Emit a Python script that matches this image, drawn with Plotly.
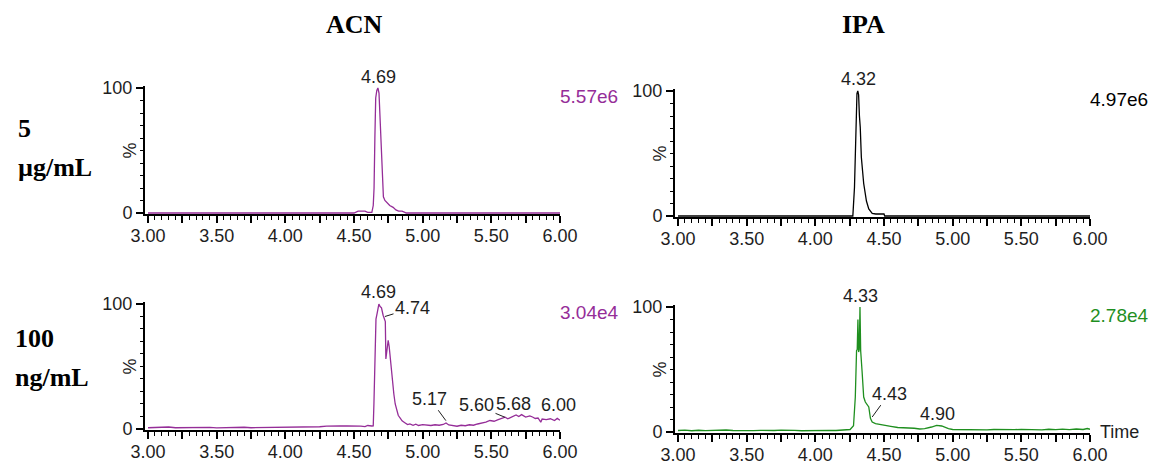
import plotly.graph_objects as go

# ---------------- data ----------------
# ACN, 5 ug/mL (purple)
t_acn5 = [3.00, 3.50, 4.00, 4.50, 4.53, 4.58, 4.60, 4.63, 4.640, 4.646, 4.652, 4.658,
          4.666, 4.674, 4.682, 4.690, 4.698, 4.706, 4.714, 4.725, 4.740, 4.760, 4.785,
          4.805, 4.825, 4.850, 4.870, 4.880, 5.50, 6.00]
i_acn5 = [0, 0, 0, 0, 1.5, 1.5, 0.5, 0.5, 6, 20, 60, 92,
          98, 100, 96, 75, 45, 22, 13, 10, 8, 6, 4.5,
          2.5, 1.5, 1.5, 0.5, 0, 0, 0]

# IPA, 5 ug/mL (black)
t_ipa5 = [3.00, 3.50, 4.00, 4.27, 4.273, 4.285, 4.295, 4.303, 4.309, 4.315, 4.321, 4.327,
          4.335, 4.352, 4.372, 4.389, 4.414, 4.44, 4.50, 4.505, 5.00, 6.00]
i_ipa5 = [0, 0, 0, 0, 0, 23, 68, 98, 100, 97, 80, 71,
          47, 26, 12, 5.6, 2, 1.6, 1.6, 0, 0, 0]

# ACN, 100 ng/mL (purple)
t_acn100 = [3.00, 3.05, 3.10, 3.15, 3.20, 3.25, 3.30, 3.35, 3.40, 3.45, 3.50, 3.55, 3.60,
            3.65, 3.70, 3.75, 3.80, 3.85, 3.90, 3.95, 4.00, 4.05, 4.10, 4.15, 4.20, 4.25,
            4.30, 4.35, 4.40, 4.45, 4.50, 4.55, 4.58, 4.60, 4.63, 4.64,
            4.645, 4.652, 4.660, 4.669, 4.681, 4.690, 4.700, 4.712, 4.722, 4.728, 4.732,
            4.737, 4.745, 4.749, 4.756, 4.765, 4.773, 4.782, 4.790, 4.800, 4.810, 4.822,
            4.834, 4.850, 4.870, 4.890, 4.907, 4.93, 4.95, 4.97, 5.00, 5.03, 5.06, 5.09,
            5.12, 5.15, 5.17, 5.19, 5.22, 5.25, 5.28, 5.31, 5.34, 5.37, 5.40, 5.43, 5.46,
            5.49, 5.52, 5.55, 5.58, 5.60, 5.62, 5.65, 5.68, 5.70, 5.72, 5.75, 5.78, 5.80,
            5.82, 5.84, 5.86, 5.87, 5.90, 5.93, 5.96, 5.98, 6.00]
i_acn100 = [1.0, 1.2, 0.9, 1.6, 1.0, 1.1, 0.9, 1.2, 1.0, 1.3, 0.9, 1.1, 1.0,
            1.2, 1.4, 1.0, 1.1, 0.9, 1.3, 1.0, 1.2, 1.5, 1.3, 1.6, 2.0, 1.8,
            2.3, 2.1, 2.5, 2.4, 2.6, 2.3, 1.9, 2.8, 2.4, 2.5,
            20, 68, 88, 93, 100, 98, 97, 91, 87, 86, 56,
            62, 70, 71, 66, 55, 47, 37, 28, 20, 15, 11,
            9, 6.5, 5, 3.5, 4, 3, 3.8, 2.8, 3.5, 3.2, 2.8, 3.4,
            3.0, 3.6, 4.8, 3.2, 2.5, 2.2, 3.0, 2.6, 3.4, 3.0, 4.0, 4.6, 5.5,
            6.8, 6.2, 7.5, 8.4, 9.4, 8.2, 9.8, 11.2, 10.0, 11.5, 9.5, 10.5, 9.6,
            8.4, 8.8, 5.5, 8.0, 7.5, 8.2, 6.8, 8.5, 7.0]

# IPA, 100 ng/mL (green)
t_ipa100 = [3.00, 3.05, 3.10, 3.15, 3.20, 3.25, 3.30, 3.35, 3.40, 3.45, 3.50, 3.55, 3.60,
            3.65, 3.70, 3.75, 3.80, 3.85, 3.90, 3.95, 4.00, 4.05, 4.10, 4.15, 4.20, 4.24,
            4.253, 4.278, 4.291, 4.300, 4.305, 4.310, 4.315, 4.320, 4.325, 4.330, 4.340,
            4.352, 4.364, 4.389, 4.401, 4.414, 4.438, 4.475, 4.50, 4.549, 4.60, 4.673,
            4.72, 4.76, 4.796, 4.846, 4.883, 4.92, 4.95, 4.969, 5.00, 5.043, 5.10, 5.15,
            5.20, 5.25, 5.30, 5.35, 5.40, 5.45, 5.50, 5.55, 5.60, 5.65, 5.70, 5.75, 5.80,
            5.85, 5.90, 5.95, 5.98, 6.00]
i_ipa100 = [1.2, 1.5, 1.0, 1.4, 1.1, 1.3, 1.0, 1.6, 1.2, 1.0, 1.4, 1.1, 1.3,
            1.0, 1.2, 1.5, 1.1, 1.3, 1.0, 1.2, 1.4, 1.1, 1.3, 1.2, 1.5, 1.8,
            2.0, 5, 28, 65, 66, 90, 64, 66, 100, 65, 49,
            28, 24, 20, 11, 8, 6.7, 5.9, 5.0, 4.5, 3.6, 3.5,
            3.0, 2.4, 2.7, 4.0, 5.3, 4.8, 3.2, 2.7, 2.0, 1.9, 2.2, 1.8,
            2.1, 1.7, 2.0, 1.8, 2.2, 1.9, 2.1, 1.8, 2.0, 1.7, 2.2, 1.9, 2.3,
            1.9, 2.4, 2.0, 2.8, 2.2]

x_tickvals = [3.00, 3.25, 3.50, 3.75, 4.00, 4.25, 4.50, 4.75, 5.00, 5.25, 5.50, 5.75, 6.00]
x_ticktext = ["3.00", "", "3.50", "", "4.00", "", "4.50", "", "5.00", "", "5.50", "", "6.00"]

col_titles = ["ACN", "IPA"]
row_titles = [["5", "µg/mL"], ["100", "ng/mL"]]
intensities = ["5.57e6", "4.97e6", "3.04e4", "2.78e4"]

PURPLE = "#952d98"
GREEN = "#1f8f1f"
BLACK = "#000000"
TXT = "#1e1e1e"

W, H = 1150, 465
XR = [2.978, 6.0]
YMIN, YMAX = -0.8, 101.5

# panel geometry in pixels: (left, right, y-pixel of 0 %, y-pixel of 100 %)
panels = [(145, 560, 213, 88), (675, 1090, 216, 91),
          (145, 560, 429, 304), (675, 1090, 432, 307)]


def ydomain(p0, p100):
    s = (p0 - p100) / 100.0
    bottom = p0 + (0 - YMIN) * s
    top = p100 - (YMAX - 100) * s
    return [1 - bottom / H, 1 - top / H]


def yfrac(v):
    # value in % -> fraction of the y domain
    return (v - YMIN) / (YMAX - YMIN)


fig = go.Figure()
series = [(t_acn5, i_acn5, PURPLE), (t_ipa5, i_ipa5, BLACK),
          (t_acn100, i_acn100, PURPLE), (t_ipa100, i_ipa100, GREEN)]
for k, (t, v, c) in enumerate(series):
    sfx = "" if k == 0 else str(k + 1)
    fig.add_trace(go.Scatter(x=t, y=v, mode="lines", line=dict(color=c, width=1.3),
                             xaxis="x" + sfx, yaxis="y" + sfx, showlegend=False,
                             hoverinfo="skip"))

tickfont = dict(family="Liberation Sans, Arial, sans-serif", size=18, color=TXT)
layout = {}
for k, (l, r, p0, p100) in enumerate(panels):
    sfx = "" if k == 0 else str(k + 1)
    layout["xaxis" + sfx] = dict(
        domain=[l / W, r / W], range=XR, anchor="y" + sfx, automargin=False,
        showline=True, linewidth=2, linecolor="black", showgrid=False, zeroline=False,
        tickmode="array", tickvals=x_tickvals, ticktext=x_ticktext,
        ticks="outside", ticklen=7, tickwidth=1.5, tickcolor="black",
        ticklabelstandoff=-3,
        minor=dict(tickmode="linear", tick0=3.0, dtick=0.05, ticks="outside",
                   ticklen=4, tickwidth=1, tickcolor="black"),
        tickfont=tickfont, fixedrange=True)
    layout["yaxis" + sfx] = dict(
        domain=ydomain(p0, p100), range=[YMIN, YMAX], anchor="x" + sfx, automargin=False,
        showline=True, linewidth=2, linecolor="black", showgrid=False, zeroline=False,
        tickmode="array", tickvals=[0, 100], ticktext=["0", "100"],
        ticks="outside", ticklen=7, tickwidth=1.5, tickcolor="black",
        minor=dict(tickmode="linear", tick0=0, dtick=10, ticks="outside",
                   ticklen=3, tickwidth=1, tickcolor="black"),
        tickfont=tickfont, fixedrange=True)

ann = []
lab = dict(family="Liberation Sans, Arial, sans-serif", size=18, color=TXT)
for k in range(4):
    sfx = "" if k == 0 else str(k + 1)
    # % label
    ann.append(dict(text="%", xref="x" + sfx + " domain", x=0, xshift=-16,
                    yref="y" + sfx + " domain", y=yfrac(50), showarrow=False,
                    textangle=-90, xanchor="center", yanchor="middle", font=lab))
    # intensity label
    icol = [PURPLE, BLACK, PURPLE, GREEN][k]
    ann.append(dict(text=intensities[k], xref="x" + sfx + " domain", x=1, xshift=-2,
                    yref="y" + sfx + " domain", y=yfrac(93), showarrow=False,
                    xanchor="left", yanchor="middle",
                    font=dict(family="Liberation Sans, Arial, sans-serif", size=19,
                              color=icol)))

# peak labels (no leader)
plain = [("x", "y", 4.676, 109, "4.69"), ("x2", "y2", 4.315, 110, "4.32"),
         ("x3", "y3", 4.676, 110, "4.69"), ("x3", "y3", 5.66, 20, "5.68"),
         ("x3", "y3", 5.988, 18.8, "6.00"), ("x4", "y4", 4.327, 109, "4.33"),
         ("x4", "y4", 4.888, 14.7, "4.90")]
for xr, yr, xv, yv, tx in plain:
    ann.append(dict(text=tx, xref=xr, yref=yr + " domain", x=xv, y=yfrac(yv),
                    showarrow=False, xanchor="center", yanchor="middle", font=lab))

# peak labels with leader lines: (axis, point x, point y, text x, text y, text)
leaders = [("3", 4.725, 90, 4.926, 96.8, "4.74"), ("3", 5.169, 6.7, 5.052, 24.2, "5.17"),
           ("3", 5.599, 9.4, 5.392, 18.8, "5.60"), ("4", 4.414, 12, 4.537, 30.7, "4.43")]
for s, px, py, tx_, ty_, tx in leaders:
    ann.append(dict(text=tx, xref="x" + s, yref="y" + s, x=px, y=py,
                    axref="x" + s, ayref="y" + s, ax=tx_, ay=ty_, showarrow=True,
                    arrowhead=0, arrowwidth=1, arrowcolor=TXT, font=lab))

# Time label
ann.append(dict(text="Time", xref="x4 domain", x=1, xshift=8,
                yref="y4 domain", y=yfrac(0), showarrow=False, xanchor="left",
                yanchor="middle", font=lab))

# column titles
serif = dict(family="Liberation Serif, Times New Roman, serif", size=26, color="black")
for cx, t in zip([354, 864], col_titles):
    ann.append(dict(text="<b>%s</b>" % t, xref="paper", yref="paper", x=cx / W,
                    y=1 - 24 / H, showarrow=False, xanchor="center", yanchor="middle",
                    font=serif))
# row titles
row_pos = [(16, 129, 167), (13, 338, 377)]
for (lx, y1, y2), (a, b) in zip(row_pos, row_titles):
    ann.append(dict(text="<b>%s</b>" % a, xref="paper", yref="paper", x=lx / W,
                    y=1 - y1 / H, showarrow=False, xanchor="left", yanchor="middle",
                    font=serif))
    ann.append(dict(text="<b>%s</b>" % b, xref="paper", yref="paper", x=lx / W,
                    y=1 - y2 / H, showarrow=False, xanchor="left", yanchor="middle",
                    font=serif))

fig.update_layout(width=W, height=H,
                  margin=dict(l=0, r=0, t=0, b=0, pad=0, autoexpand=False),
                  paper_bgcolor="white", plot_bgcolor="white", annotations=ann,
                  **layout)
fig.write_html("out.html", config={"displayModeBar": False},
               post_script="document.body.style.margin='0';"
                           "document.body.style.overflow='hidden';")
